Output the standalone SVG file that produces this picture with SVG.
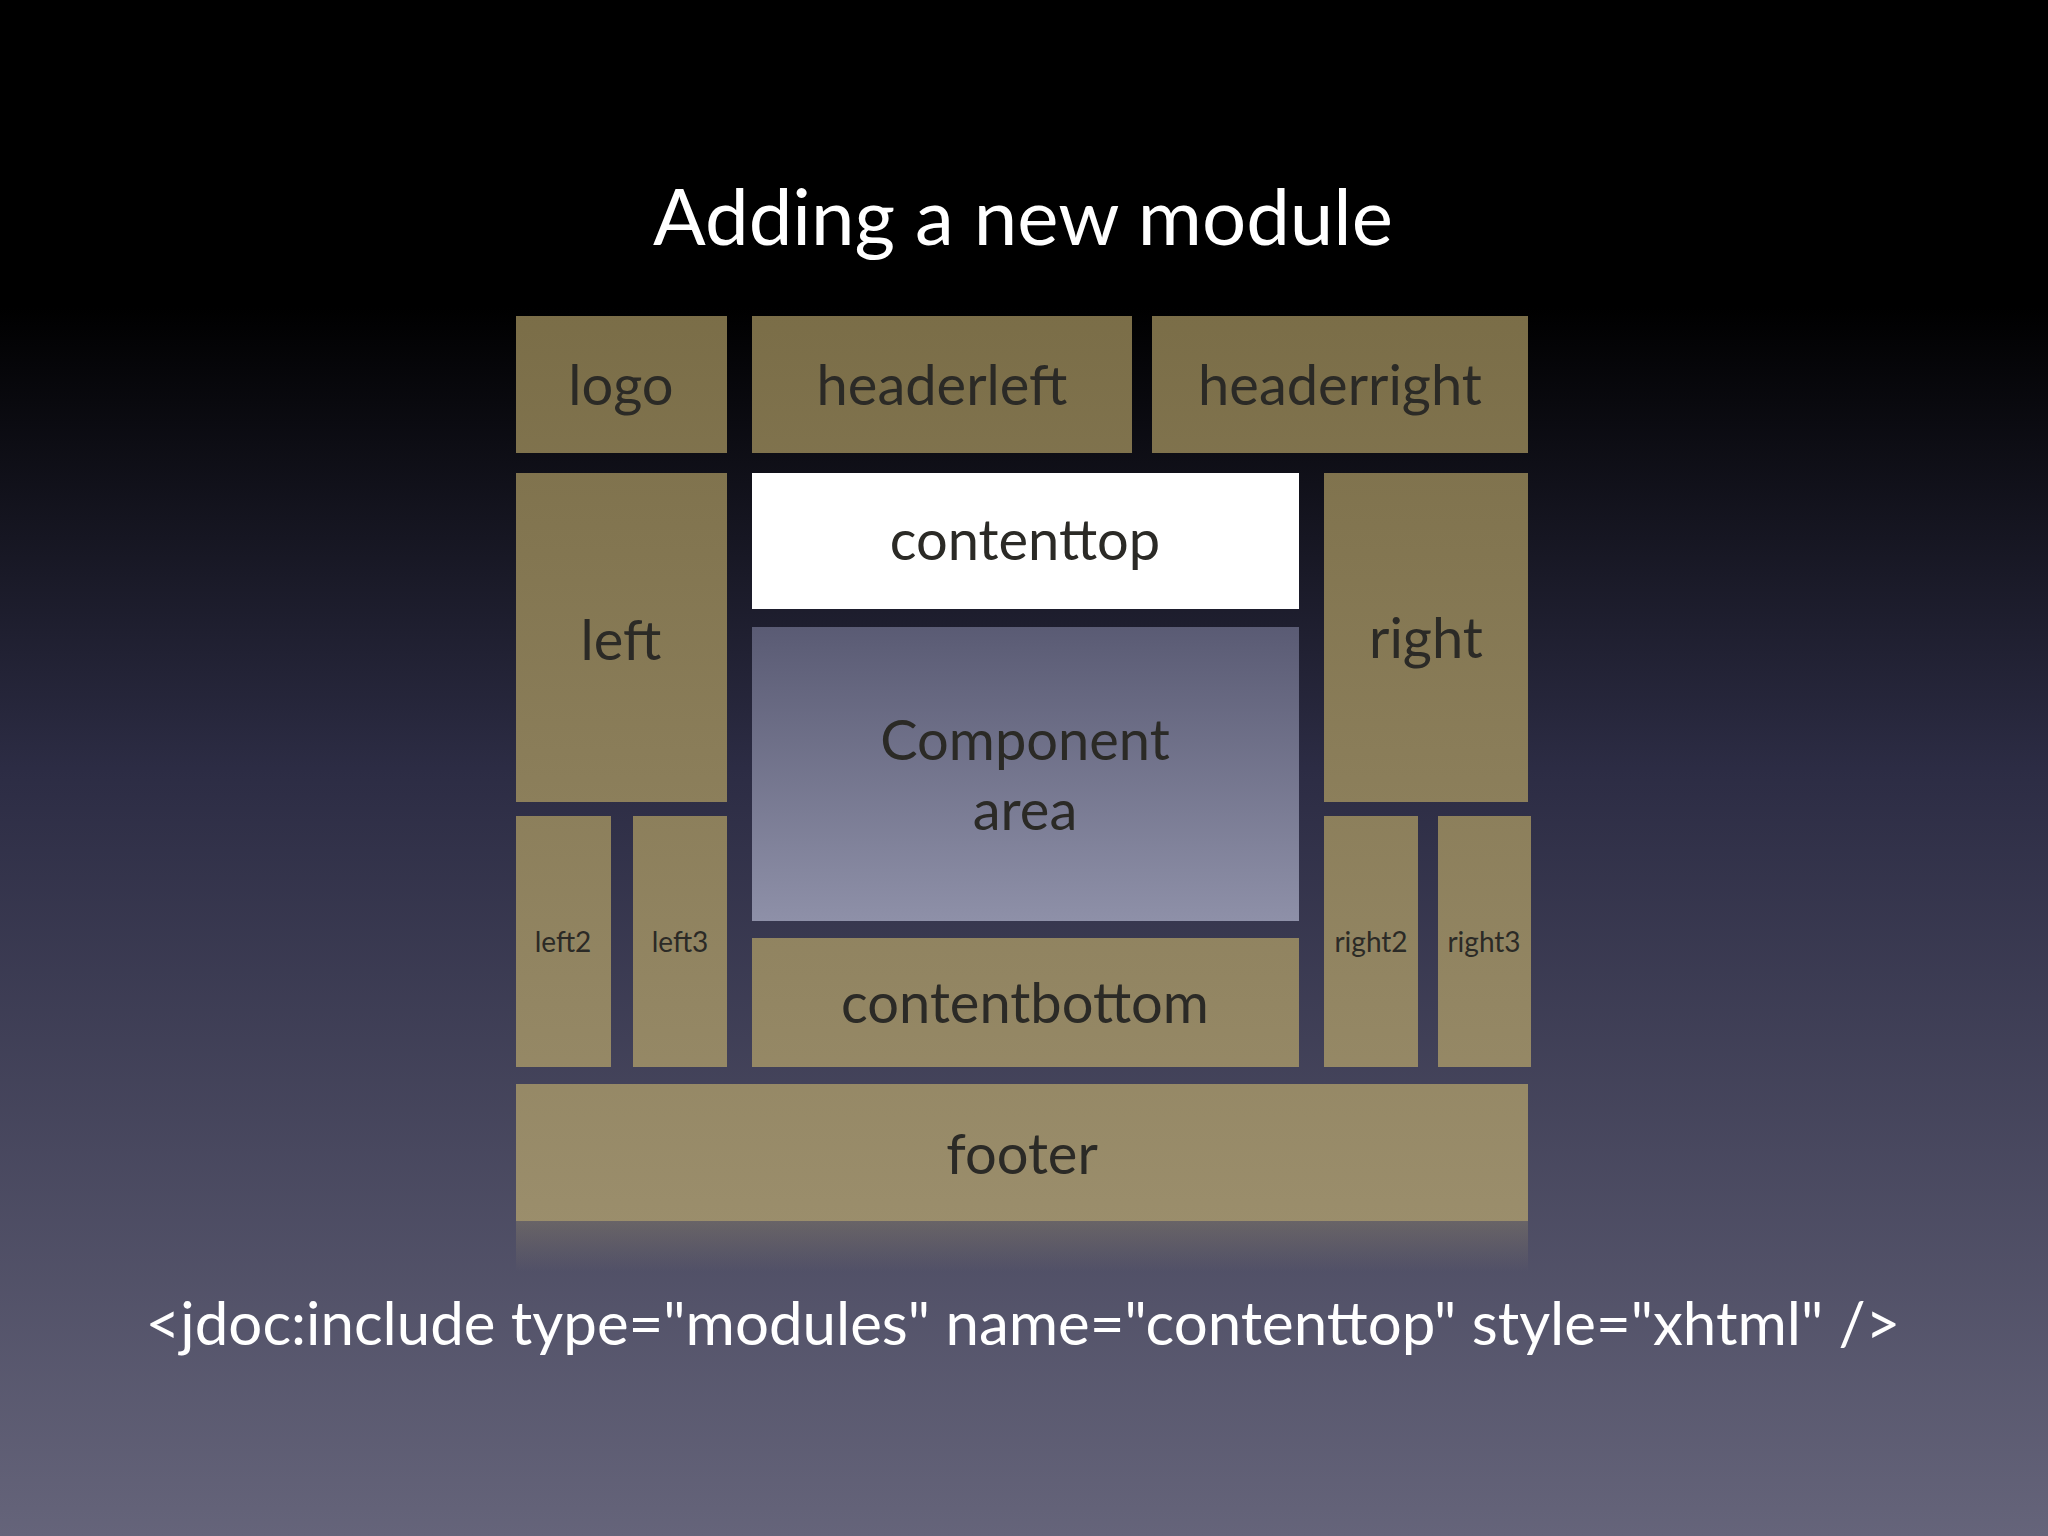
<svg xmlns="http://www.w3.org/2000/svg" width="2048" height="1536" viewBox="0 0 2048 1536">
<defs>
<linearGradient id="bg" x1="0" y1="0" x2="0" y2="1">
<stop offset="0" stop-color="#000"/><stop offset="0.2" stop-color="#000"/><stop offset="0.5" stop-color="#2c2c44"/><stop offset="1" stop-color="#65647a"/>
</linearGradient>
<linearGradient id="box" x1="0" x2="0" gradientUnits="userSpaceOnUse" y1="300" y2="1230">
<stop offset="0" stop-color="#7a6d47"/><stop offset="1" stop-color="#9b8e6c"/>
</linearGradient>
<linearGradient id="comp" x1="0" y1="0" x2="0" y2="1">
<stop offset="0" stop-color="#5a5b74"/><stop offset="1" stop-color="#8e90a8"/>
</linearGradient>
<linearGradient id="refl" x1="0" y1="0" x2="0" y2="1">
<stop offset="0" stop-color="#9b8e6c" stop-opacity="0.35"/><stop offset="1" stop-color="#9b8e6c" stop-opacity="0"/>
</linearGradient>
</defs>
<style>
.b{fill:url(#box)}
.t{font-family:"Lato","Open Sans",sans-serif;fill:#2b2a26;text-anchor:middle}
.L{font-size:56px}.S{font-size:28px}
</style>
<rect width="2048" height="1536" fill="url(#bg)"/>
<text x="1023" y="245" font-family="Lato,'Open Sans',sans-serif" font-size="78" fill="#fff" text-anchor="middle">Adding a new module</text>
<g id="logo"><rect class="b" x="516" y="316" width="211" height="137"/><text class="t L" x="621" y="405">logo</text></g>
<g id="headerleft"><rect class="b" x="752" y="316" width="380" height="137"/><text class="t L" x="942" y="405">headerleft</text></g>
<g id="headerright"><rect class="b" x="1152" y="316" width="376" height="137"/><text class="t L" x="1340" y="405">headerright</text></g>
<g id="contenttop"><rect fill="#fff" x="752" y="473" width="547" height="136"/><text class="t L" x="1025" y="560">contenttop</text></g>
<g id="left"><rect class="b" x="516" y="473" width="211" height="329"/><text class="t L" x="621" y="660">left</text></g>
<g id="right"><rect class="b" x="1324" y="473" width="204" height="329"/><text class="t L" x="1426" y="658">right</text></g>
<g id="component"><rect fill="url(#comp)" x="752" y="627" width="547" height="294"/><text class="t L" x="1025" y="760">Component</text><text class="t L" x="1025" y="830">area</text></g>
<g id="left2"><rect class="b" x="516" y="816" width="95" height="251"/><text class="t S" x="563" y="952">left2</text></g>
<g id="left3"><rect class="b" x="633" y="816" width="94" height="251"/><text class="t S" x="680" y="952">left3</text></g>
<g id="right2"><rect class="b" x="1324" y="816" width="94" height="251"/><text class="t S" x="1371" y="952">right2</text></g>
<g id="right3"><rect class="b" x="1438" y="816" width="93" height="251"/><text class="t S" x="1484" y="952">right3</text></g>
<g id="contentbottom"><rect class="b" x="752" y="938" width="547" height="129"/><text class="t L" x="1025" y="1023">contentbottom</text></g>
<g id="footer"><rect class="b" x="516" y="1084" width="1012" height="137"/><text class="t L" x="1022" y="1174">footer</text></g>
<rect x="516" y="1221" width="1012" height="50" fill="url(#refl)"/>
<g id="connectors"/>
<text x="1023" y="1345" font-family="Lato,'Open Sans',sans-serif" font-size="60" fill="#fff" text-anchor="middle">&lt;jdoc:include type="modules" name="contenttop" style="xhtml" /&gt;</text>
</svg>
